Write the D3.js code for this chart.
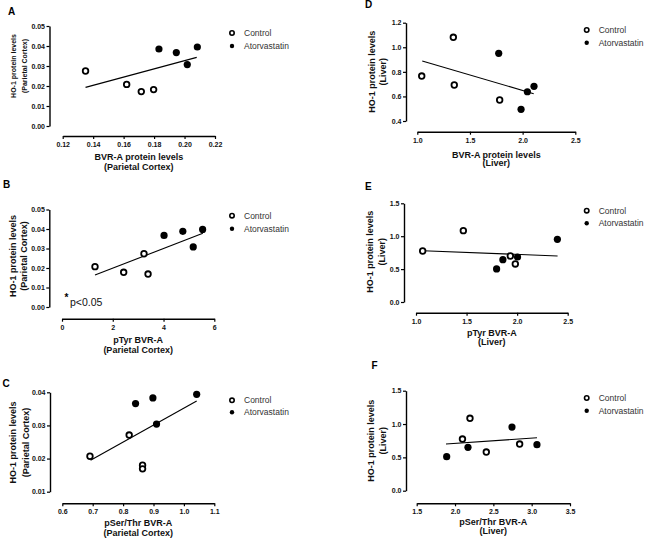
<!DOCTYPE html>
<html>
<head>
<meta charset="utf-8">
<script src="https://cdn.jsdelivr.net/npm/d3@7"></script>
<style>
html,body{margin:0;padding:0;background:#fff;}
svg{display:block;}
</style>
</head>
<body>
<svg id="chart" width="646" height="540"></svg>
<script>
// ---------------- DATA ----------------
const legendLabels = ["Control", "Atorvastatin"];
const panelLetters = ["A", "B", "C", "D", "E", "F"];

// Panel A: BVR-A vs HO-1 (Parietal Cortex)
const ctrlA = [[0.135, 0.0275], [0.162, 0.0208], [0.1716, 0.0172], [0.1797, 0.0182]];
const atorA = [[0.1832, 0.0385], [0.1946, 0.0367], [0.2018, 0.0307], [0.2084, 0.0395]];
const fitA = [[0.135, 0.0193], [0.208, 0.0343]];
const xTicksA = [0.12, 0.14, 0.16, 0.18, 0.20, 0.22];
const yTicksA = [0.00, 0.01, 0.02, 0.03, 0.04, 0.05];

// Panel B: pTyr BVR-A vs HO-1 (Parietal Cortex)
const ctrlB = [[1.3, 0.0207], [2.43, 0.0178], [3.23, 0.0273], [3.39, 0.0169]];
const atorB = [[4.02, 0.0367], [4.76, 0.0388], [5.17, 0.0308], [5.54, 0.0398]];
const fitB = [[1.3, 0.0164], [5.55, 0.0378]];
const xTicksB = [0, 2, 4, 6];
const yTicksB = [0.00, 0.01, 0.02, 0.03, 0.04, 0.05];

// Panel C: pSer/Thr BVR-A vs HO-1 (Parietal Cortex)
const ctrlC = [[0.691, 0.0207], [0.820, 0.0271], [0.864, 0.0180], [0.864, 0.0169]];
const atorC = [[0.841, 0.0366], [0.898, 0.0383], [0.910, 0.0304], [1.042, 0.0394]];
const fitC = [[0.693, 0.0195], [1.042, 0.0374]];
const xTicksC = [0.6, 0.7, 0.8, 0.9, 1.0, 1.1];
const yTicksC = [0.01, 0.02, 0.03, 0.04];

// Panel D: BVR-A vs HO-1 (Liver)
const ctrlD = [[1.042, 0.766], [1.342, 1.081], [1.351, 0.693], [1.782, 0.571]];
const atorD = [[1.773, 0.951], [1.985, 0.495], [2.045, 0.638], [2.108, 0.682]];
const fitD = [[1.047, 0.888], [2.105, 0.622]];
const xTicksD = [1.0, 1.5, 2.0, 2.5];
const yTicksD = [0.4, 0.6, 0.8, 1.0, 1.2];

// Panel E: pTyr BVR-A vs HO-1 (Liver)
const ctrlE = [[1.066, 0.775], [1.468, 1.084], [1.933, 0.699], [1.982, 0.578]];
const atorE = [[1.797, 0.502], [1.859, 0.643], [2.004, 0.684], [2.398, 0.953]];
const fitE = [[1.07, 0.780], [2.40, 0.699]];
const xTicksE = [1.0, 1.5, 2.0, 2.5];
const yTicksE = [0.0, 0.5, 1.0, 1.5];

// Panel F: pSer/Thr BVR-A vs HO-1 (Liver)
const ctrlF = [[2.195, 1.086], [2.097, 0.775], [2.408, 0.580], [2.843, 0.700]];
const atorF = [[1.891, 0.510], [2.169, 0.650], [2.743, 0.955], [3.069, 0.690]];
const fitF = [[1.882, 0.700], [3.069, 0.795]];
const xTicksF = [1.5, 2.0, 2.5, 3.0, 3.5];
const yTicksF = [0.0, 0.5, 1.0, 1.5];

const xTitles = [
  ["BVR-A protein levels", "(Parietal Cortex)"],
  ["pTyr BVR-A", "(Parietal Cortex)"],
  ["pSer/Thr BVR-A", "(Parietal Cortex)"],
  ["BVR-A protein levels", "(Liver)"],
  ["pTyr BVR-A", "(Liver)"],
  ["pSer/Thr BVR-A", "(Liver)"]
];
const yTitles = [
  ["HO-1 protein levels", "(Parietal Cortex)"],
  ["HO-1 protein levels", "(Parietal Cortex)"],
  ["HO-1 protein levels", "(Parietal Cortex)"],
  ["HO-1 protein levels", "(Liver)"],
  ["HO-1 protein levels", "(Liver)"],
  ["HO-1 protein levels", "(Liver)"]
];
const annotationB = "p<0.05";

// ---------------- LAYOUT ----------------
const FONT = "'Liberation Sans', Arial, Helvetica, sans-serif";
const panels = [
  {ctrl: ctrlA, ator: atorA, fit: fitA, xt: xTicksA, yt: yTicksA, xf: ".2f", yf: ".2f",
   yAxisX: 49.5, yPx: [126, 26], xAxisY: 136, xPx: [62.7, 215],
   letter: [8, 14.5], legX: 232, legY: [33, 46],
   yTitleX: [16, 27], yTitleCY: 66, yTitleSize: 7, xTitleDY: [23.5, 33.5]},
  {ctrl: ctrlB, ator: atorB, fit: fitB, xt: xTicksB, yt: yTicksB, xf: "d", yf: ".2f",
   yAxisX: 49.3, yPx: [307, 209.5], xAxisY: 318.7, xPx: [62, 214.3],
   letter: [3, 188], legX: 232, legY: [215.7, 228.7],
   yTitleX: [15.5, 26.5], yTitleCY: 256, yTitleSize: 9, xTitleDY: [24, 34]},
  {ctrl: ctrlC, ator: atorC, fit: fitC, xt: xTicksC, yt: yTicksC, xf: ".1f", yf: ".2f",
   yAxisX: 50, yPx: [491.7, 392.3], xAxisY: 503.3, xPx: [62.3, 214.3],
   letter: [2.5, 387], legX: 232, legY: [400.3, 412.3],
   yTitleX: [15.5, 28.5], yTitleCY: 442.5, yTitleSize: 9, xTitleDY: [23, 32.5]},
  {ctrl: ctrlD, ator: atorD, fit: fitD, xt: xTicksD, yt: yTicksD, xf: ".1f", yf: ".1f",
   yAxisX: 406, yPx: [121, 22.7], xAxisY: 131.7, xPx: [417.3, 575.3],
   letter: [365, 8], legX: 586.7, legY: [30, 42.7],
   yTitleX: [375, 386], yTitleCY: 71.7, yTitleSize: 9, xTitleDY: [26, 34.5]},
  {ctrl: ctrlE, ator: atorE, fit: fitE, xt: xTicksE, yt: yTicksE, xf: ".1f", yf: ".1f",
   yAxisX: 404, yPx: [302, 203.3], xAxisY: 312.7, xPx: [416, 567.7],
   letter: [365, 190], legX: 586.7, legY: [210.7, 223.3],
   yTitleX: [373, 384.5], yTitleCY: 251.7, yTitleSize: 9, xTitleDY: [23, 32.5]},
  {ctrl: ctrlF, ator: atorF, fit: fitF, xt: xTicksF, yt: yTicksF, xf: ".1f", yf: ".1f",
   yAxisX: 406, yPx: [490.7, 390.7], xAxisY: 503.3, xPx: [416.7, 570],
   letter: [371.5, 369], legX: 586.7, legY: [398, 410.7],
   yTitleX: [374, 385.5], yTitleCY: 440.8, yTitleSize: 9, xTitleDY: [22, 31]}
];

const svg = d3.select("#chart");

panels.forEach((p, i) => {
  const g = svg.append("g");
  const x = d3.scaleLinear().domain([p.xt[0], p.xt[p.xt.length - 1]]).range(p.xPx);
  const y = d3.scaleLinear().domain([p.yt[0], p.yt[p.yt.length - 1]]).range(p.yPx);

  // axes
  const xa = g.append("g").attr("transform", `translate(0,${p.xAxisY})`)
    .call(d3.axisBottom(x).tickValues(p.xt).tickFormat(d3.format(p.xf))
      .tickSize(3).tickSizeOuter(0).tickPadding(3));
  const ya = g.append("g").attr("transform", `translate(${p.yAxisX},0)`)
    .call(d3.axisLeft(y).tickValues(p.yt).tickFormat(d3.format(p.yf))
      .tickSize(3).tickSizeOuter(0).tickPadding(1.5));
  [xa, ya].forEach(a => {
    a.select(".domain").attr("stroke", "#000").attr("stroke-width", 1.4);
    a.selectAll(".tick line").attr("stroke", "#000").attr("stroke-width", 1.2);
    a.selectAll(".tick text").attr("fill", "#111").attr("font-family", FONT)
      .attr("font-size", 7).attr("font-weight", "bold");
  });

  // regression line
  g.append("path").datum(p.fit)
    .attr("d", d3.line().x(d => x(d[0])).y(d => y(d[1])))
    .attr("fill", "none").attr("stroke", "#000").attr("stroke-width", 1.1);

  // points
  g.selectAll("circle.ctrl").data(p.ctrl).join("circle").attr("class", "ctrl")
    .attr("cx", d => x(d[0])).attr("cy", d => y(d[1])).attr("r", 2.8)
    .attr("fill", "#fff").attr("stroke", "#000").attr("stroke-width", 1.8);
  g.selectAll("circle.ator").data(p.ator).join("circle").attr("class", "ator")
    .attr("cx", d => x(d[0])).attr("cy", d => y(d[1])).attr("r", 3.6)
    .attr("fill", "#000");

  // panel letter
  g.append("text").attr("x", p.letter[0]).attr("y", p.letter[1])
    .attr("font-family", FONT).attr("font-weight", "bold").attr("font-size", 10)
    .text(panelLetters[i]);

  // x title
  const xc = (p.xPx[0] + p.xPx[1]) / 2;
  xTitles[i].forEach((t, k) => {
    g.append("text").attr("x", xc).attr("y", p.xAxisY + p.xTitleDY[k])
      .attr("text-anchor", "middle").attr("font-family", FONT)
      .attr("font-weight", "bold").attr("font-size", 9).attr("fill", "#111").text(t);
  });
  // y title
  yTitles[i].forEach((t, k) => {
    g.append("text").attr("transform", `translate(${p.yTitleX[k]},${p.yTitleCY}) rotate(-90)`)
      .attr("text-anchor", "middle").attr("font-family", FONT)
      .attr("font-weight", "bold").attr("font-size", p.yTitleSize).attr("fill", "#111").text(t);
  });

  // legend
  const lg = g.append("g");
  lg.append("circle").attr("cx", p.legX).attr("cy", p.legY[0]).attr("r", 2.2)
    .attr("fill", "#fff").attr("stroke", "#000").attr("stroke-width", 1.6);
  lg.append("circle").attr("cx", p.legX).attr("cy", p.legY[1]).attr("r", 2.2)
    .attr("fill", "#000");
  legendLabels.forEach((t, k) => {
    lg.append("text").attr("x", p.legX + 12).attr("y", p.legY[k] + 3)
      .attr("font-family", FONT).attr("font-size", 8.5).attr("fill", "#333").text(t);
  });
});

// annotation in panel B
const gB = svg.append("g");
gB.append("text").attr("x", 64.5).attr("y", 301)
  .attr("font-family", FONT).attr("font-weight", "bold").attr("font-size", 10).text("*");
gB.append("text").attr("x", 70).attr("y", 306)
  .attr("font-family", FONT).attr("font-size", 10.5).attr("fill", "#111").text(annotationB);
</script>
</body>
</html>
